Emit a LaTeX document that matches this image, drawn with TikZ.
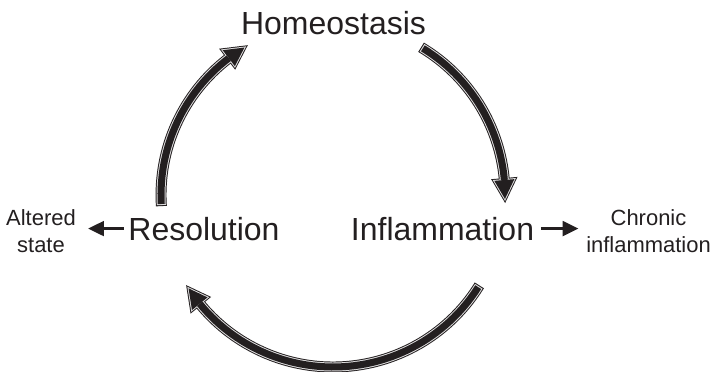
\documentclass[tikz,border=0pt]{standalone}
\usepackage{fontspec}
\setmainfont{Liberation Sans}
\usetikzlibrary{positioning,arrows.meta}
\definecolor{ink}{RGB}{35,31,32}
\tikzset{
  stage/.style={font=\fontsize{18.2}{22}\selectfont, text=ink, inner sep=2pt, anchor=base},
  outcome/.style={font=\fontsize{12.5}{15.3}\selectfont, text=ink, inner sep=2pt, align=center},
  sidearrow/.style={draw=ink, line width=1.3pt, -{Triangle[length=9pt, width=8.5pt]}},
  rim/.style={draw=ink, line width=6.2pt},
  rimhead/.style={draw=ink, fill=ink, line width=2.2pt, line join=miter},
  gap/.style={draw=white!85!ink, line width=5.1pt},
  gaphead/.style={draw=white!85!ink, fill=white!85!ink, line width=1.1pt, line join=miter},
  core/.style={draw=ink, line width=4pt},
}

\begin{document}
\begin{tikzpicture}
  \useasboundingbox (0,0) rectangle (14.3,7.42);
  % --- cycle geometry ---
  \def\cx{6.66} \def\cy{3.52} \def\rad{3.44}
  \def\hw{0.2} \def\hl{6.3}   % head half-width (cm), head length (deg)
  \coordinate (hub) at (\cx,\cy);

  % --- stages of the cycle ---
  \node[stage] (homeo) at (6.67,6.72) {Homeostasis};
  \node[stage] (resol) at (4.08,2.62) {Resolution};
  \node[stage] (inflam) at (8.85,2.62) {Inflammation};

  % --- outcomes off the cycle ---
  \node[outcome] (altered) at (0.82,2.8) {Altered\\state};
  \node[outcome] (chronic) at (12.97,2.8) {Chronic\\inflammation};

  \draw[sidearrow, shorten <=0.02cm, shorten >=0.17cm] (resol.west) -- (altered.east |- resol.west);
  \draw[sidearrow, shorten <=0.06cm, shorten >=0.08cm] (inflam.east) -- (chronic.west |- inflam.east);

  % --- cycle arrows: black rim, thin white gap, black core ---
  \begin{scope}[shift={(hub)}]
  \foreach \s/\t in {183/121, 58.5/-1.3, -32.4/-147.1}{
    \pgfmathsetmacro\b{\t+\hl}
    \pgfmathsetmacro\sa{\s+0.7}
    \pgfmathsetmacro\sb{\s+0.35}
    \draw[rim] (\sa:\rad) arc[start angle=\sa, end angle=\b, radius=\rad];
    \filldraw[rimhead] (\b:{\rad-\hw}) -- (\b:{\rad+\hw}) -- (\t:\rad) -- cycle;
    \draw[gap] (\sb:\rad) arc[start angle=\sb, end angle=\b, radius=\rad];
    \filldraw[gaphead] (\b:{\rad-\hw}) -- (\b:{\rad+\hw}) -- (\t:\rad) -- cycle;
    \draw[core] (\s:\rad) arc[start angle=\s, end angle=\b, radius=\rad];
    \fill[ink] (\b:{\rad-\hw}) -- (\b:{\rad+\hw}) -- (\t:\rad) -- cycle;
  }
  \end{scope}
\end{tikzpicture}
\end{document}
